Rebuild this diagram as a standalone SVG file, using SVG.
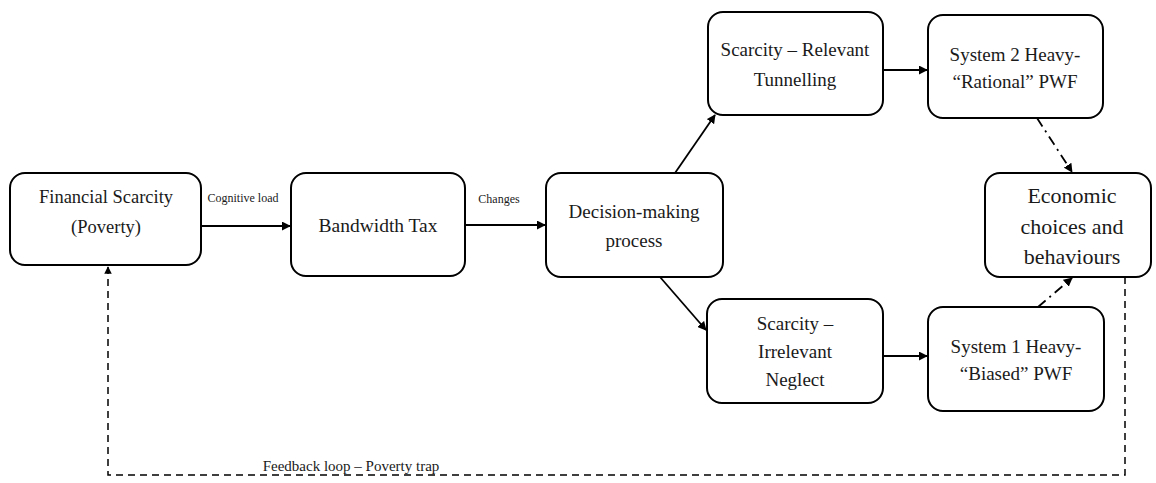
<svg xmlns="http://www.w3.org/2000/svg" width="1156" height="483" viewBox="0 0 1156 483">
<style>
.box{fill:#fff;stroke:#000;stroke-width:2}
.t{font-family:'Liberation Serif','Times New Roman','DejaVu Serif',serif;fill:#1a1a1a;text-anchor:middle}
.c{stroke:#000;stroke-width:1.8;fill:none}
.dd{stroke-dasharray:10 5 2 5}
.ds{stroke-dasharray:7 5;stroke-width:1.5}
</style>
<defs>
<marker id="ah" viewBox="0 0 10 10" refX="9" refY="5" markerWidth="5" markerHeight="5" orient="auto">
<path d="M0,0 L10,5 L0,10 z" fill="#000"/>
</marker>
</defs>
<rect width="1156" height="483" fill="#fff"/>
<g id="connectors">
<line class="c" x1="201" y1="226" x2="290" y2="226" marker-end="url(#ah)"/>
<line class="c" x1="465" y1="225" x2="545" y2="225" marker-end="url(#ah)"/>
<line class="c" x1="675" y1="173" x2="715" y2="115" marker-end="url(#ah)"/>
<line class="c" x1="660" y1="277" x2="706" y2="330" marker-end="url(#ah)"/>
<line class="c" x1="883" y1="70" x2="927" y2="70" marker-end="url(#ah)"/>
<line class="c" x1="883" y1="356" x2="927" y2="356" marker-end="url(#ah)"/>
<line class="c dd" x1="1037" y1="118" x2="1072" y2="172" marker-end="url(#ah)"/>
<line class="c dd" x1="1038" y1="307" x2="1072" y2="278" marker-end="url(#ah)"/>
<polyline class="c ds" points="1125,277 1125,475 108,475 108,267" marker-end="url(#ah)"/>
<text class="t" x="243" y="202" font-size="12">Cognitive load</text>
<text class="t" x="499" y="203" font-size="12">Changes</text>
<text class="t" x="351" y="471" font-size="15">Feedback loop – Poverty trap</text>
</g>
<g id="n1">
<rect class="box" x="10" y="173" width="191" height="92" rx="15"/>
<text class="t" x="106" y="203" font-size="18.5">Financial Scarcity</text>
<text class="t" x="106" y="233" font-size="18.5">(Poverty)</text>
</g>
<g id="n2">
<rect class="box" x="291" y="173" width="174" height="103" rx="15"/>
<text class="t" x="378" y="232" font-size="19.5">Bandwidth Tax</text>
</g>
<g id="n3">
<rect class="box" x="546" y="173" width="177" height="104" rx="15"/>
<text class="t" x="634" y="218" font-size="19">Decision-making</text>
<text class="t" x="634" y="247" font-size="19">process</text>
</g>
<g id="n4">
<rect class="box" x="708" y="12" width="175" height="103" rx="15"/>
<text class="t" x="795" y="56" font-size="19">Scarcity – Relevant</text>
<text class="t" x="795" y="86" font-size="19">Tunnelling</text>
</g>
<g id="n5">
<rect class="box" x="928" y="15" width="175" height="103" rx="15"/>
<text class="t" x="1015" y="61" font-size="19">System 2 Heavy-</text>
<text class="t" x="1015" y="88" font-size="19">“Rational” PWF</text>
</g>
<g id="n6">
<rect class="box" x="985" y="173" width="166" height="104" rx="15"/>
<text class="t" x="1072" y="203" font-size="22">Economic</text>
<text class="t" x="1072" y="234" font-size="22">choices and</text>
<text class="t" x="1072" y="264" font-size="22">behaviours</text>
</g>
<g id="n7">
<rect class="box" x="707" y="299" width="176" height="104" rx="15"/>
<text class="t" x="795" y="330" font-size="19">Scarcity –</text>
<text class="t" x="795" y="358" font-size="19">Irrelevant</text>
<text class="t" x="795" y="386" font-size="19">Neglect</text>
</g>
<g id="n8">
<rect class="box" x="928" y="307" width="176" height="104" rx="15"/>
<text class="t" x="1016" y="353" font-size="19">System 1 Heavy-</text>
<text class="t" x="1016" y="380" font-size="19">“Biased” PWF</text>
</g>
</svg>
